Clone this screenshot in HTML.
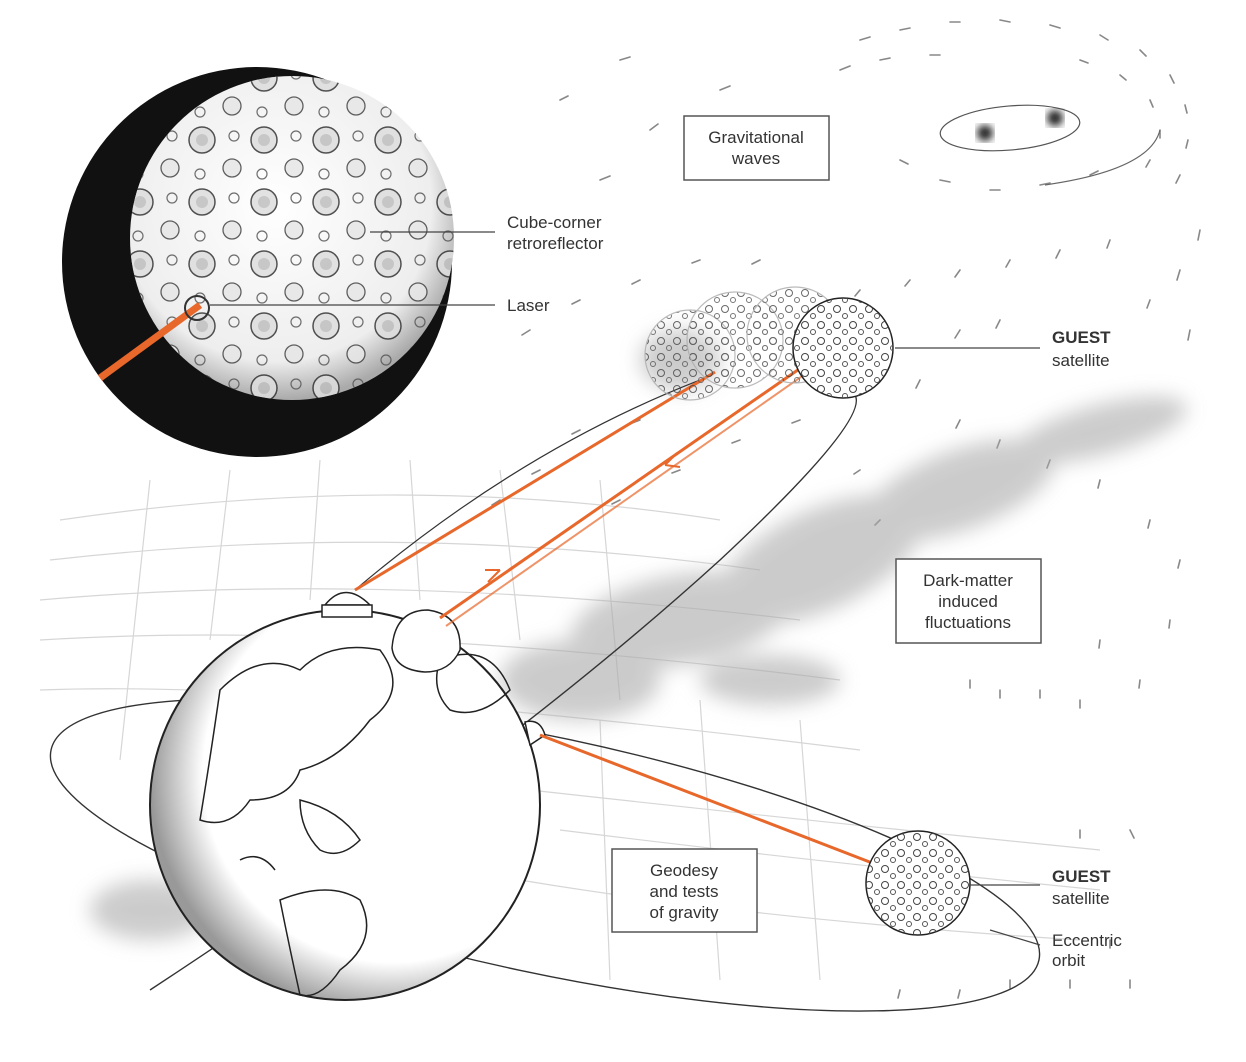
<!DOCTYPE html>
<html><head><meta charset="utf-8"><style>
html,body{margin:0;padding:0;background:#fff;}
svg{display:block;}
text{font-family:"Liberation Sans",sans-serif;font-size:17px;fill:#333;}
</style></head><body>
<svg width="1246" height="1062" viewBox="0 0 1246 1062" xmlns="http://www.w3.org/2000/svg">
<defs>
<filter id="blur" x="-20%" y="-20%" width="140%" height="140%"><feGaussianBlur stdDeviation="10"/></filter>
<filter id="blur2"><feGaussianBlur stdDeviation="4"/></filter>
<radialGradient id="moonG" cx="0.45" cy="0.4" r="0.6"><stop offset="0" stop-color="#fff"/><stop offset="0.8" stop-color="#eee"/><stop offset="1" stop-color="#aaa"/></radialGradient>
<radialGradient id="earthG" cx="0.62" cy="0.42" r="0.62"><stop offset="0.78" stop-color="#fff"/><stop offset="1" stop-color="#999"/></radialGradient>
<pattern id="crat" width="62" height="62" patternUnits="userSpaceOnUse"><circle cx="16" cy="16" r="13" fill="#ddd" stroke="#333" stroke-width="1.5"/><circle cx="16" cy="16" r="6" fill="#aaa" opacity="0.6"/><circle cx="46" cy="44" r="9" fill="#e6e6e6" stroke="#444" stroke-width="1.3"/><circle cx="48" cy="12" r="5" fill="none" stroke="#555" stroke-width="1.2"/><circle cx="14" cy="50" r="5" fill="none" stroke="#555" stroke-width="1.2"/></pattern>
<pattern id="crat2" width="16" height="16" patternUnits="userSpaceOnUse"><circle cx="5" cy="5" r="3.5" fill="none" stroke="#444" stroke-width="1"/><circle cx="13" cy="12" r="2.5" fill="none" stroke="#555" stroke-width="1"/></pattern>
</defs>

<!-- grid -->
<g stroke="#ccc" stroke-width="1.2" fill="none" opacity="0.8">
<path d="M60 520 Q400 470 720 520"/><path d="M50 560 Q400 520 760 570"/><path d="M40 600 Q380 570 800 620"/><path d="M40 640 Q360 620 840 680"/><path d="M40 690 Q300 680 860 750"/><path d="M530 790 Q800 820 1100 850"/><path d="M560 830 Q800 860 1100 890"/><path d="M520 880 Q760 920 1080 940"/>
<path d="M150 480 L120 760"/><path d="M230 470 L210 640"/><path d="M320 460 L310 600"/><path d="M410 460 L420 600"/><path d="M500 470 L520 640"/><path d="M600 480 L620 700"/><path d="M700 700 L720 980"/><path d="M800 720 L820 980"/><path d="M600 720 L610 980"/>
</g>
<!-- gravitational wave dashes -->
<g stroke="#888" stroke-width="1.6" stroke-linecap="round">
<path d="M860 40 l10 -3M900 30 l10 -2M950 22 l10 0M1000 20 l10 2M1050 25 l10 3M1100 35 l8 5M1140 50 l6 6M1170 75 l4 8M1185 105 l2 8M1188 140 l-2 8M1180 175 l-4 8M840 70 l10 -4M880 60 l10 -2M930 55 l10 0M1080 60 l8 3M1120 75 l6 5M1150 100 l3 7M1160 130 l0 8M1150 160 l-4 7M900 160 l8 4M940 180 l10 2M990 190 l10 0M1040 185 l10 -2M1090 175 l8 -4M720 90 l10 -4M650 130 l8 -6M600 180 l10 -4M560 100 l8 -4M620 60 l10 -3M1200 230 l-2 10M1180 270 l-3 10M1150 300 l-3 8M1190 330 l-2 10M1110 240 l-3 8M1060 250 l-4 8M1010 260 l-4 7M960 270 l-5 7M910 280 l-5 6M860 290 l-5 6M760 260 l-8 4M700 260 l-8 3M640 280 l-8 4M580 300 l-8 4M530 330 l-8 5M1000 320 l-4 8M960 330 l-5 8M920 380 l-4 8M960 420 l-4 8M1000 440 l-3 8M1050 460 l-3 8M1100 480 l-2 8M1150 520 l-2 8M1180 560 l-2 8M1170 620 l-1 8M1140 680 l-1 8M1100 640 l-1 8M1080 700 l0 8M1040 690 l0 8M1000 690 l0 8M970 680 l0 8M1130 830 l4 8M1080 830 l0 8M1110 940 l0 8M1130 980 l0 8M1070 980 l0 8M1010 980 l0 8M960 990 l-2 8M900 990 l-2 8M640 420 l-8 3M580 430 l-8 4M540 470 l-8 4M500 500 l-8 5M620 500 l-8 4M680 470 l-8 3M740 440 l-8 3M800 420 l-8 3M860 470 l-6 4M880 520 l-5 5"/>
</g>
<!-- binary -->
<ellipse cx="1010" cy="128" rx="70" ry="22" fill="none" stroke="#555" stroke-width="1.2" transform="rotate(-5 1010 128)"/>
<circle cx="985" cy="133" r="8" fill="#222" filter="url(#blur2)"/><circle cx="1055" cy="118" r="8" fill="#222" filter="url(#blur2)"/>
<path d="M1045 185 Q1150 170 1160 130" fill="none" stroke="#666" stroke-width="1.2"/>

<!-- dark matter clouds -->
<g fill="#aaa" filter="url(#blur)" opacity="0.6">
<ellipse cx="1100" cy="430" rx="90" ry="25" transform="rotate(-15 1100 430)"/>
<ellipse cx="960" cy="490" rx="100" ry="40" transform="rotate(-20 960 490)"/>
<ellipse cx="820" cy="560" rx="110" ry="50" transform="rotate(-25 820 560)"/>
<ellipse cx="680" cy="620" rx="110" ry="45" transform="rotate(-10 680 620)"/>
<ellipse cx="580" cy="680" rx="80" ry="40"/>
<ellipse cx="770" cy="680" rx="70" ry="25"/>
<ellipse cx="150" cy="910" rx="60" ry="30"/>
<ellipse cx="680" cy="360" rx="40" ry="30"/>
</g>

<!-- orbits -->
<ellipse cx="545" cy="855" rx="505" ry="118" fill="none" stroke="#333" stroke-width="1.4" transform="rotate(12 545 855)"/>
<path d="M150 990 Q500 760 720 560 Q870 420 855 395" fill="none" stroke="#333" stroke-width="1.4"/>
<path d="M355 590 Q520 450 700 380" fill="none" stroke="#333" stroke-width="1.2"/>

<!-- earth -->
<circle cx="345" cy="805" r="195" fill="url(#earthG)" stroke="#222" stroke-width="2"/>
<g fill="none" stroke="#222" stroke-width="1.5">
<path d="M220 690 Q260 650 300 670 Q330 640 380 650 Q410 690 370 720 Q340 760 300 770 Q290 800 250 800 Q230 830 200 820 Q210 760 220 690Z"/>
<path d="M300 800 Q340 810 360 840 Q340 860 320 850 Q300 830 300 800Z"/>
<path d="M280 900 Q330 880 360 900 Q380 940 340 970 Q320 1000 300 995 Q290 950 280 900Z"/>
<path d="M440 660 Q490 640 510 690 Q480 720 450 710 Q430 690 440 660Z"/>
<path d="M240 860 Q260 850 275 870"/>
</g>
<!-- domes -->
<g fill="#fff" stroke="#222" stroke-width="1.5">
<path d="M325 605 Q345 580 370 605Z"/><rect x="322" y="605" width="50" height="12"/>
<path d="M392 648 Q395 610 428 610 Q462 615 460 650 Q450 672 425 672 Q395 670 392 648Z"/>
<path d="M525 722 Q540 718 545 735 L530 745Z"/>
</g>

<!-- laser lines -->
<g stroke="#e8672a" stroke-width="3" fill="none">
<line x1="355" y1="590" x2="715" y2="372"/>
<line x1="440" y1="618" x2="805" y2="365"/>
<line x1="446" y1="626" x2="808" y2="372" stroke-width="2" opacity="0.7"/>
<line x1="540" y1="735" x2="880" y2="866"/>
<path d="M665 465 l12 -12 M665 465 l15 2" stroke-width="2"/>
<path d="M500 570 l-12 12 M500 570 l-15 0" stroke-width="2"/>
</g>

<!-- top satellites -->
<g fill="#fff" stroke="#aaa" stroke-width="1.2" opacity="0.8">
<circle cx="690" cy="355" r="45" fill="url(#crat2)"/>
<circle cx="735" cy="340" r="48" fill="url(#crat2)"/>
<circle cx="795" cy="335" r="48" fill="url(#crat2)"/>
</g>
<circle cx="843" cy="348" r="50" fill="#fff" stroke="#222" stroke-width="1.5"/>
<circle cx="843" cy="348" r="50" fill="url(#crat2)"/>
<line x1="895" y1="348" x2="1040" y2="348" stroke="#444" stroke-width="1.2"/>
<text x="1052" y="343" style="font-weight:bold">GUEST</text><text x="1052" y="366">satellite</text>

<!-- bottom satellite -->
<circle cx="918" cy="883" r="52" fill="#fff" stroke="#222" stroke-width="1.5"/>
<circle cx="918" cy="883" r="52" fill="url(#crat2)"/>
<line x1="970" y1="885" x2="1040" y2="885" stroke="#444" stroke-width="1.2"/>
<text x="1052" y="882" style="font-weight:bold">GUEST</text><text x="1052" y="904">satellite</text>
<line x1="990" y1="930" x2="1040" y2="945" stroke="#444" stroke-width="1.2"/>
<text x="1052" y="946">Eccentric</text><text x="1052" y="966">orbit</text>

<!-- moon -->
<circle cx="257" cy="262" r="195" fill="#111"/>
<circle cx="292" cy="238" r="162" fill="url(#moonG)"/>
<circle cx="292" cy="238" r="162" fill="url(#crat)" opacity="0.85"/>
<line x1="100" y1="378" x2="200" y2="305" stroke="#e8672a" stroke-width="7"/>
<circle cx="197" cy="308" r="12" fill="none" stroke="#333" stroke-width="2"/>
<line x1="370" y1="232" x2="495" y2="232" stroke="#444" stroke-width="1.2"/>
<line x1="210" y1="305" x2="495" y2="305" stroke="#444" stroke-width="1.2"/>
<text x="507" y="228">Cube-corner</text><text x="507" y="249">retroreflector</text>
<text x="507" y="311">Laser</text>

<!-- boxes -->
<g fill="#fff" stroke="#555" stroke-width="1.5">
<rect x="684" y="116" width="145" height="64"/>
<rect x="896" y="559" width="145" height="84"/>
<rect x="612" y="849" width="145" height="83"/>
</g>
<g text-anchor="middle">
<text x="756" y="143">Gravitational</text><text x="756" y="164">waves</text>
<text x="968" y="586">Dark-matter</text><text x="968" y="607">induced</text><text x="968" y="628">fluctuations</text>
<text x="684" y="876">Geodesy</text><text x="684" y="897">and tests</text><text x="684" y="918">of gravity</text>
</g>
</svg>
</body></html>
